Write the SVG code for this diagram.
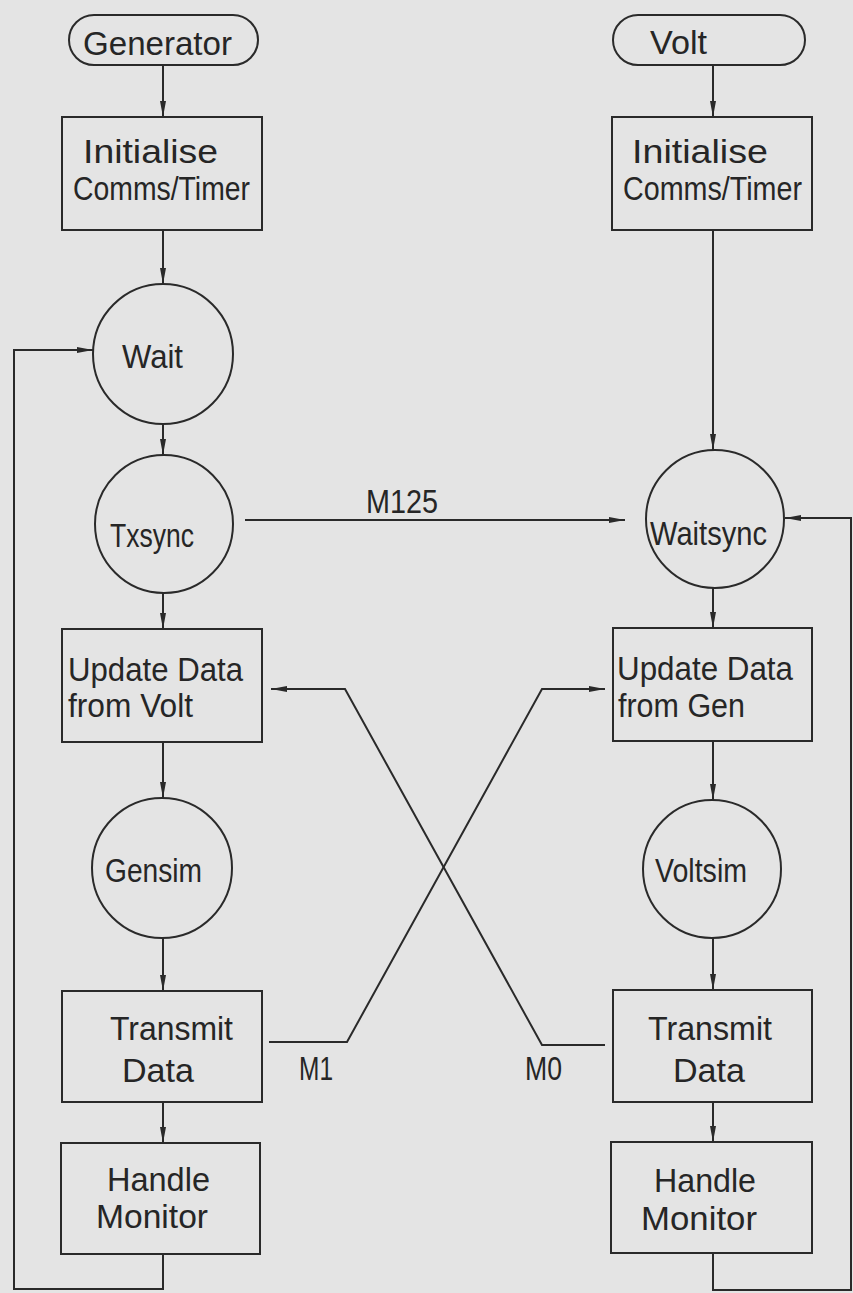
<svg xmlns="http://www.w3.org/2000/svg" width="853" height="1293" viewBox="0 0 853 1293">
<defs>
<style>
.bg{fill:#e4e4e4}
.n{fill:none;stroke:#2a2a2a;stroke-width:2}
.c{fill:none;stroke:#2a2a2a;stroke-width:2}
.t{font-family:"Liberation Sans","DejaVu Sans",sans-serif;font-size:33px;fill:#262626}
</style>
<marker id="ah" markerWidth="16" markerHeight="8" refX="16" refY="4" orient="auto" markerUnits="userSpaceOnUse">
<path d="M0,1 L16,4 L0,7 z" fill="#2a2a2a"/>
</marker>
</defs>
<rect class="bg" x="0" y="0" width="853" height="1293"/>

<g id="connectors">
<line class="c" x1="163" y1="65" x2="163" y2="117" marker-end="url(#ah)"/>
<line class="c" x1="163" y1="230" x2="163" y2="284" marker-end="url(#ah)"/>
<line class="c" x1="163" y1="424" x2="163" y2="455" marker-end="url(#ah)"/>
<line class="c" x1="163" y1="593" x2="163" y2="629" marker-end="url(#ah)"/>
<line class="c" x1="163" y1="742" x2="163" y2="798" marker-end="url(#ah)"/>
<line class="c" x1="163" y1="938" x2="163" y2="991" marker-end="url(#ah)"/>
<line class="c" x1="163" y1="1102" x2="163" y2="1143" marker-end="url(#ah)"/>
<polyline class="c" points="163,1254 163,1289 14,1289 14,350 93,350" marker-end="url(#ah)"/>
<line class="c" x1="713" y1="65" x2="713" y2="117" marker-end="url(#ah)"/>
<line class="c" x1="713" y1="230" x2="713" y2="450" marker-end="url(#ah)"/>
<line class="c" x1="713" y1="588" x2="713" y2="628" marker-end="url(#ah)"/>
<line class="c" x1="713" y1="741" x2="713" y2="800" marker-end="url(#ah)"/>
<line class="c" x1="713" y1="938" x2="713" y2="990" marker-end="url(#ah)"/>
<line class="c" x1="713" y1="1102" x2="713" y2="1142" marker-end="url(#ah)"/>
<polyline class="c" points="713,1253 713,1290 851,1290 851,518 785,518" marker-end="url(#ah)"/>
<line class="c" x1="245" y1="520" x2="625" y2="520" marker-end="url(#ah)"/>
<polyline class="c" points="269,1042 347,1042 542,689 605,689" marker-end="url(#ah)"/>
<polyline class="c" points="605,1045 542,1045 345,689 271,689" marker-end="url(#ah)"/>
<text class="t" x="366" y="513" textLength="72" lengthAdjust="spacingAndGlyphs">M125</text>
<text class="t" x="299" y="1080" textLength="34" lengthAdjust="spacingAndGlyphs">M1</text>
<text class="t" x="525" y="1080" textLength="37" lengthAdjust="spacingAndGlyphs">M0</text>
</g>

<g id="generator">
<rect class="n" x="69" y="15" width="189" height="50" rx="25"/>
<text class="t" x="83" y="55" textLength="149" lengthAdjust="spacingAndGlyphs">Generator</text>
</g>
<g id="init-gen">
<rect class="n" x="62" y="117" width="200" height="113"/>
<text class="t" x="83" y="163" textLength="135" lengthAdjust="spacingAndGlyphs">Initialise</text>
<text class="t" x="73" y="200" textLength="177" lengthAdjust="spacingAndGlyphs">Comms/Timer</text>
</g>
<g id="wait">
<circle class="n" cx="163" cy="354" r="70"/>
<text class="t" x="122" y="368" textLength="61" lengthAdjust="spacingAndGlyphs">Wait</text>
</g>
<g id="txsync">
<circle class="n" cx="164" cy="524" r="69"/>
<text class="t" x="110" y="547" textLength="84" lengthAdjust="spacingAndGlyphs">Txsync</text>
</g>
<g id="update-volt">
<rect class="n" x="62" y="629" width="200" height="113"/>
<text class="t" x="68" y="681" textLength="175" lengthAdjust="spacingAndGlyphs">Update Data</text>
<text class="t" x="68" y="717" textLength="125" lengthAdjust="spacingAndGlyphs">from Volt</text>
</g>
<g id="gensim">
<circle class="n" cx="162" cy="868" r="70"/>
<text class="t" x="105" y="882" textLength="97" lengthAdjust="spacingAndGlyphs">Gensim</text>
</g>
<g id="transmit-gen">
<rect class="n" x="62" y="991" width="200" height="111"/>
<text class="t" x="110" y="1040" textLength="123" lengthAdjust="spacingAndGlyphs">Transmit</text>
<text class="t" x="122" y="1082" textLength="72" lengthAdjust="spacingAndGlyphs">Data</text>
</g>
<g id="monitor-gen">
<rect class="n" x="61" y="1143" width="199" height="111"/>
<text class="t" x="107" y="1191" textLength="103" lengthAdjust="spacingAndGlyphs">Handle</text>
<text class="t" x="96" y="1228" textLength="112" lengthAdjust="spacingAndGlyphs">Monitor</text>
</g>

<g id="volt">
<rect class="n" x="613" y="15" width="192" height="50" rx="25"/>
<text class="t" x="650" y="54" textLength="57" lengthAdjust="spacingAndGlyphs">Volt</text>
</g>
<g id="init-volt">
<rect class="n" x="612" y="117" width="200" height="113"/>
<text class="t" x="632" y="163" textLength="136" lengthAdjust="spacingAndGlyphs">Initialise</text>
<text class="t" x="623" y="200" textLength="179" lengthAdjust="spacingAndGlyphs">Comms/Timer</text>
</g>
<g id="waitsync">
<circle class="n" cx="715" cy="519" r="69"/>
<text class="t" x="650" y="545" textLength="117" lengthAdjust="spacingAndGlyphs">Waitsync</text>
</g>
<g id="update-gen">
<rect class="n" x="613" y="628" width="199" height="113"/>
<text class="t" x="617" y="680" textLength="176" lengthAdjust="spacingAndGlyphs">Update Data</text>
<text class="t" x="618" y="717" textLength="127" lengthAdjust="spacingAndGlyphs">from Gen</text>
</g>
<g id="voltsim">
<circle class="n" cx="712" cy="869" r="69"/>
<text class="t" x="655" y="882" textLength="92" lengthAdjust="spacingAndGlyphs">Voltsim</text>
</g>
<g id="transmit-volt">
<rect class="n" x="613" y="990" width="199" height="112"/>
<text class="t" x="648" y="1040" textLength="124" lengthAdjust="spacingAndGlyphs">Transmit</text>
<text class="t" x="673" y="1082" textLength="72" lengthAdjust="spacingAndGlyphs">Data</text>
</g>
<g id="monitor-volt">
<rect class="n" x="611" y="1142" width="201" height="111"/>
<text class="t" x="654" y="1192" textLength="102" lengthAdjust="spacingAndGlyphs">Handle</text>
<text class="t" x="641" y="1230" textLength="116" lengthAdjust="spacingAndGlyphs">Monitor</text>
</g>
</svg>
